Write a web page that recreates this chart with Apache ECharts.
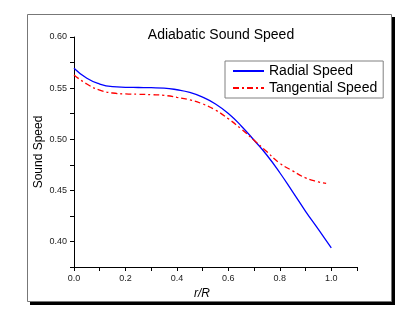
<!DOCTYPE html>
<html style="height: 100%">
<head>
<meta charset="utf-8">
<script src="https://cdn.jsdelivr.net/npm/echarts@6/dist/echarts.min.js"></script>
</head>
<body style="height: 100%; margin: 0; background: #fff">
<div id="container" style="width: 415px; height: 321px"></div>
<script type="text/javascript">
// r/R sample points
var rPos = [0, 0.05, 0.10, 0.15, 0.20, 0.25, 0.30, 0.35, 0.40, 0.45, 0.50,
            0.55, 0.60, 0.65, 0.70, 0.75, 0.80, 0.85, 0.90, 0.95, 1.00];
var radialSpeed = [0.5695, 0.5596, 0.5540, 0.5514, 0.5508, 0.5506, 0.5504, 0.5500, 0.5484, 0.5458, 0.5412,
                   0.5345, 0.5252, 0.5130, 0.4990, 0.4843, 0.4672, 0.4485, 0.4295, 0.4118, 0.3938];
var rPosTan = [0, 0.05, 0.10, 0.15, 0.20, 0.25, 0.30, 0.35, 0.40, 0.45, 0.50,
               0.55, 0.60, 0.65, 0.70, 0.75, 0.80, 0.85, 0.90, 0.95, 0.98];
var tangentialSpeed = [0.5628, 0.5540, 0.5480, 0.5452, 0.5443, 0.5440, 0.5436, 0.5429, 0.5410, 0.5385, 0.5345,
                       0.5285, 0.5200, 0.5100, 0.4990, 0.4877, 0.4765, 0.4690, 0.4622, 0.4582, 0.4568];
var seriesNames = ['Radial Speed', 'Tangential Speed'];

function pairs(xs, ys) {
    return xs.map(function (x, i) { return [x, ys[i]]; });
}

var font = 'Liberation Sans, Arial, sans-serif';
var myChart = echarts.init(document.getElementById('container'));
var option = {
    animation: false,
    textStyle: {fontFamily: font},
    graphic: [
        {type: 'rect', z: -10, shape: {x: 30, y: 17, width: 365, height: 288}, style: {fill: '#000'}},
        {type: 'rect', z: -9, shape: {x: 27.5, y: 14.5, width: 364, height: 287}, style: {fill: '#fff', stroke: '#777', lineWidth: 1}}
    ],
    title: {
        text: 'Adiabatic Sound Speed',
        left: 216, top: 23, textAlign: 'center',
        textStyle: {fontSize: 14, fontWeight: 'normal', color: '#000', fontFamily: font}
    },
    legend: {
        data: seriesNames,
        orient: 'vertical',
        left: 225, top: 61,
        padding: [3, 6, 3, 7],
        itemWidth: 31, itemHeight: 14, itemGap: 3,
        borderColor: '#808080', borderWidth: 1,
        itemStyle: {opacity: 0},
        textStyle: {fontSize: 14, color: '#000', fontFamily: font}
    },
    grid: {left: 74, top: 37, right: 58, bottom: 54},
    xAxis: {
        type: 'value', min: 0, max: 1.1, interval: 0.1,
        name: 'r/R', nameLocation: 'middle', nameGap: 15,
        nameTextStyle: {fontSize: 12, fontStyle: 'italic', color: '#000', padding: [0, 27, 0, 0]},
        axisLine: {lineStyle: {color: '#000'}},
        axisTick: {length: 4, lineStyle: {color: '#000'}},
        splitLine: {show: false},
        axisLabel: {
            fontSize: 9, color: '#222', margin: 7,
            formatter: function (v) {
                var k = Math.round(v * 10);
                return (k % 2 === 0 && k <= 10) ? v.toFixed(1) : '';
            }
        }
    },
    yAxis: {
        type: 'value', min: 0.375, max: 0.6, interval: 0.025,
        name: 'Sound Speed', nameLocation: 'middle', nameGap: 29, nameMoveOverlap: false,
        nameTextStyle: {fontSize: 12, color: '#000'},
        axisLine: {show: true, lineStyle: {color: '#000'}},
        axisTick: {show: true, length: 4, lineStyle: {color: '#000'}},
        splitLine: {show: false},
        axisLabel: {
            fontSize: 9, color: '#222', margin: 7,
            formatter: function (v) {
                return Math.round(v * 1000) % 50 === 0 ? v.toFixed(2) : '';
            }
        }
    },
    series: [
        {
            name: seriesNames[0], type: 'line', smooth: true, symbol: 'none',
            lineStyle: {color: '#0000ff', width: 1.3},
            itemStyle: {color: '#0000ff'},
            data: pairs(rPos, radialSpeed)
        },
        {
            name: seriesNames[1], type: 'line', smooth: true, symbol: 'none',
            lineStyle: {color: '#ff0000', width: 1.3, type: [6, 3, 2, 3]},
            itemStyle: {color: '#ff0000'},
            data: pairs(rPosTan, tangentialSpeed)
        }
    ]
};
myChart.setOption(option);
</script>
</body>
</html>
